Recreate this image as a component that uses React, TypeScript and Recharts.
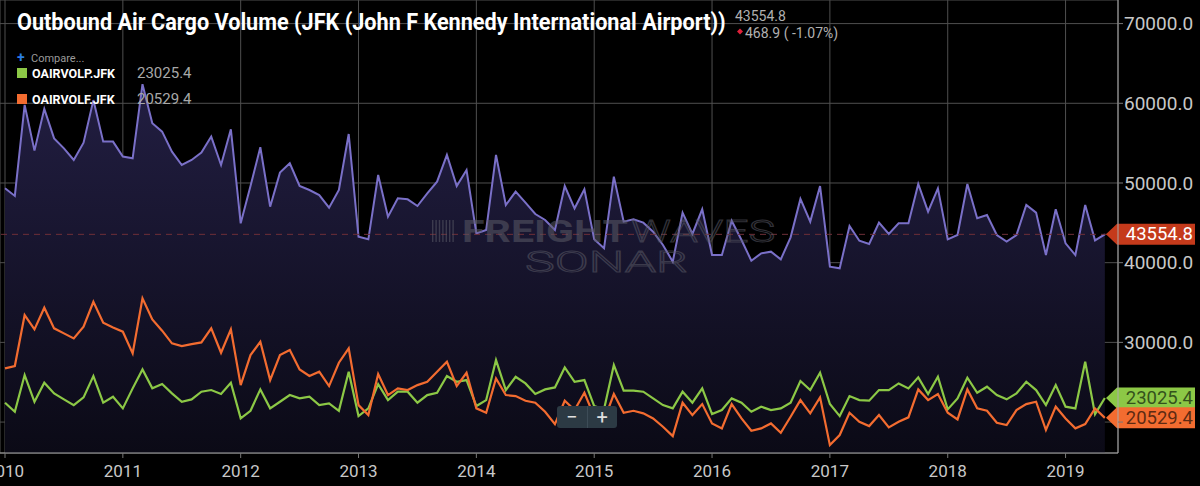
import React, { useLayoutEffect, useRef, useState } from 'react';
import { ComposedChart, Area, Line, XAxis, YAxis, CartesianGrid, ReferenceLine } from 'recharts';

// monthly values, Jan 2010 .. May 2019
const totalVolume = [
  49330, 48370, 59800, 54060, 59300, 55600, 54350, 52890, 55060, 60400, 55190, 55190,
  53310, 53100, 62400, 57490, 56440, 53930, 52260, 52890, 53810, 55820, 52260, 56740,
  44940, 49620, 54480, 47030, 51300, 52470, 49620, 49120, 48490, 46900, 49120, 56150,
  43260, 42930, 51000, 45770, 48070, 47950, 47110, 48700, 50170, 53520, 49620, 51630,
  43680, 44100, 53520, 47240, 48910, 47530, 46110, 45360, 44100, 49620, 46820, 49210,
  42930, 41800, 50790, 45150, 45440, 45020, 43890, 42220, 40130, 46280, 43600, 46700,
  40960, 40960, 45270, 42850, 40250, 41170, 41380, 40420, 43180, 48000, 45150, 49620,
  39500, 39290, 44600, 42760, 42340, 45020, 43600, 44940, 44940, 49870, 46400, 49330,
  42930, 43470, 49870, 45570, 45980, 43470, 42640, 43470, 47240, 46280, 40960, 46700,
  42430, 40960, 47240, 42800, 43554.8,
];

const passengerVolume = [
  22430, 21300, 25900, 22550, 24940, 23600, 22850, 22130, 23100, 25780, 22430, 23180,
  21720, 24230, 26610, 24230, 24770, 23600, 22550, 22850, 23810, 24020, 23520, 24940,
  20460, 21420, 24100, 21720, 22550, 23390, 22970, 23180, 22130, 22340, 21420, 26320,
  20750, 21720, 24770, 22760, 23810, 23810, 22430, 23390, 23680, 25780, 25060, 25270,
  22010, 22760, 27780, 24020, 25690, 24850, 23520, 24100, 24350, 26860, 25060, 25270,
  22000, 21600, 27160, 23940, 23940, 23810, 22970, 22130, 21720, 23810, 22430, 24230,
  21000, 21510, 22970, 22430, 21300, 21930, 21510, 21720, 22430, 25150, 24020, 26190,
  22260, 20750, 23260, 22760, 22680, 24020, 24020, 24850, 24230, 25610, 23520, 25690,
  21590, 22970, 25570, 23680, 24440, 23390, 22850, 23600, 25060, 24020, 22130, 24640,
  21930, 21720, 27570, 21000, 23025.4,
];

const freighterVolume = [
  26740, 27030, 33430, 31630, 34350, 31760, 31130, 30500, 31970, 35100, 32470, 31880,
  31340, 28620, 35520, 32890, 31470, 29880, 29540, 29790, 30000, 31760, 28700, 31630,
  24640, 28410, 30080, 25270, 28410, 29040, 26610, 25780, 26320, 24520, 27450, 29250,
  22130, 20880, 26030, 23390, 24230, 24020, 24640, 25060, 26320, 27570, 24520, 26190,
  21720, 21170, 25480, 23390, 23260, 22680, 22430, 21300, 19750, 22680, 21510, 23680,
  20700, 20200, 23520, 21170, 21420, 21090, 20460, 19420, 18240, 22430, 20880, 22260,
  19830, 19210, 22260, 20460, 18910, 19210, 19830, 18660, 20670, 22760, 21090, 23100,
  17110, 18370, 21170, 20040, 19500, 20880, 19330, 20040, 20590, 24100, 22760, 23520,
  21170, 20330, 24100, 21720, 21420, 19920, 19620, 21510, 22260, 22550, 19000, 21930,
  20460, 19210, 19750, 21720, 20529.4,
];

const yearLabels = ['2010', '2011', '2012', '2013', '2014', '2015', '2016', '2017', '2018', '2019'];
const yearTicks = [0, 12, 24, 36, 48, 60, 72, 84, 96, 108];
const valueTicks = [20000, 30000, 40000, 50000, 60000, 70000];

const seriesNames = ['OAIRVOLP.JFK', 'OAIRVOLF.JFK'];
const lastValues = [23025.4, 20529.4];
const lastTotal = 43554.8;
const lastChange = [468.9, -1.07];

const PURPLE = '#7a70c8';
const GREEN = '#8cc846';
const ORANGE = '#f36c30';

const data = totalVolume.map((v, i) => ({
  i,
  total: v,
  passenger: passengerVolume[i],
  freighter: freighterVolume[i],
}));

const Tag = (props: any) => {
  const { viewBox, text, bg, color } = props;
  const x = viewBox.x + viewBox.width;
  const y = viewBox.y;
  const pts = `${x - 12},${y} ${x - 1},${y - 10.5} ${x + 77},${y - 10.5} ${x + 77},${y + 10.5} ${x - 1},${y + 10.5}`;
  return (
    <g>
      <polygon points={pts} fill={bg} />
      <text x={x + 75} y={y} textAnchor="end" dominantBaseline="central" fill={color} fontSize={18.5} fontFamily="Roboto">
        {text}
      </text>
    </g>
  );
};

// the 20000 label sits under the orange tag in the original
const ValueTick = (props: any) => {
  const { x, y, payload } = props;
  if (payload.value === 20000) return null;
  return (
    <text x={x} y={y} dy="0.355em" textAnchor="start" fill="#c8c8c8" fontSize={19} fontFamily="Roboto">
      {payload.value.toFixed(1)}
    </text>
  );
};

function FitText({ x, y, width, children, ...rest }: any) {
  const ref = useRef<SVGTextElement>(null);
  const [k, setK] = useState(1);
  useLayoutEffect(() => {
    if (ref.current) {
      const w = ref.current.getComputedTextLength();
      if (w > 0) setK(width / w);
    }
  }, [width]);
  return (
    <text ref={ref} x={0} y={0} transform={`translate(${x},${y}) scale(${k},1)`} {...rest}>
      {children}
    </text>
  );
}

export default function App() {
  return (
    <div style={{ position: 'absolute', left: 0, top: 0, width: 1200, height: 486, background: '#000', overflow: 'hidden', fontFamily: 'Roboto' }}>
      <ComposedChart width={1200} height={486} data={data} margin={{ top: 0, right: 0, left: 0, bottom: 0 }}>
        <defs>
          <linearGradient id="purpleFill" x1="0" y1="0" x2="0" y2="1">
            <stop offset="0%" stopColor="#221e42" stopOpacity={1} />
            <stop offset="100%" stopColor="#0b0a16" stopOpacity={1} />
          </linearGradient>
        </defs>
        <CartesianGrid stroke="#4f4f4f" strokeWidth={1} />
        <XAxis
          type="number"
          dataKey="i"
          domain={[-0.51, 113.34]}
          allowDataOverflow
          ticks={yearTicks}
          interval={0}
          tickFormatter={(v: number) => yearLabels[yearTicks.indexOf(v)]}
          height={33}
          axisLine={{ stroke: '#aaaaaa' }}
          tickLine={{ stroke: '#777777' }}
          tickSize={5}
          tickMargin={7}
          tick={{ fill: '#c8c8c8', fontSize: 17 }}
        />
        <YAxis
          orientation="right"
          width={82}
          domain={[16120, 72960]}
          allowDataOverflow
          ticks={valueTicks}
          interval={0}
          axisLine={{ stroke: '#aaaaaa' }}
          tickLine={{ stroke: '#777777' }}
          tickSize={5}
          tickMargin={1}
          tick={<ValueTick />}
        />
        <Area
          type="linear"
          dataKey="total"
          stroke={PURPLE}
          strokeWidth={2}
          fill="url(#purpleFill)"
          fillOpacity={1}
          dot={false}
          activeDot={false}
          isAnimationActive={false}
        />
        <ReferenceLine
          y={lastTotal}
          stroke="#6e2f38"
          strokeDasharray="6 5"
          label={<Tag text={lastTotal.toFixed(1)} bg="#c53a1b" color="#ffffff" />}
        />
        <Line type="linear" dataKey="passenger" stroke={GREEN} strokeWidth={2.2} dot={false} activeDot={false} isAnimationActive={false} />
        <Line type="linear" dataKey="freighter" stroke={ORANGE} strokeWidth={2.2} dot={false} activeDot={false} isAnimationActive={false} />
        <ReferenceLine
          y={lastValues[0]}
          stroke="none"
          label={<Tag text={lastValues[0].toFixed(1)} bg={GREEN} color="#34521c" />}
        />
        <ReferenceLine
          y={lastValues[1]}
          stroke="none"
          label={<Tag text={lastValues[1].toFixed(1)} bg={ORANGE} color="#5e2a12" />}
        />
      </ComposedChart>

      <svg width={1200} height={486} style={{ position: 'absolute', left: 0, top: 0, pointerEvents: 'none' }}>
        {/* watermark */}
        <g opacity={0.55}>
          {[0, 1, 2, 3, 4, 5, 6].map((k) => (
            <rect key={k} x={432 + k * 3.4} y={220} width={1.4} height={22} fill="#5a5a66" />
          ))}
          <text x={462} y={242} fontSize={31} fontWeight={700} fill="#5a5a66" textLength={166} lengthAdjust="spacingAndGlyphs">FREIGHT</text>
          <text x={631} y={242} fontSize={31} fontWeight={300} fill="none" stroke="#5a5a66" strokeWidth={1} textLength={144} lengthAdjust="spacingAndGlyphs">WAVES</text>
          <text x={525} y={272} fontSize={29} fontWeight={300} fill="none" stroke="#5a5a66" strokeWidth={1} textLength={163} lengthAdjust="spacingAndGlyphs">SONAR</text>
        </g>

        {/* title */}
        <FitText x={17} y={29.5} width={709} fontSize={24} fontWeight={700} fill="#ffffff">
          Outbound Air Cargo Volume (JFK (John F Kennedy International Airport))
        </FitText>
        <text x={735} y={20.5} fontSize={14} fill="#b0b0b0">{lastTotal.toFixed(1)}</text>
        <polygon points="740,28.5 743,31.5 740,34.5 737,31.5" fill="#e0203a" />
        <text x={745} y={37.5} fontSize={14} fill="#b0b0b0">
          {`${lastChange[0].toFixed(1)} ( ${lastChange[1].toFixed(2)}%)`}
        </text>

        {/* legend */}
        <text x={17} y={62} fontSize={14} fontWeight={700} fill="#2b7de4">+</text>
        <text x={31} y={62} fontSize={11} fill="#9a9a9a">Compare...</text>
        <rect x={17} y={68} width={10} height={10} fill={GREEN} />
        <text x={32} y={77.5} fontSize={12.5} fontWeight={700} fill="#ffffff">{seriesNames[0]}</text>
        <text x={137} y={78} fontSize={15} fill="#a8a8a8">{lastValues[0].toFixed(1)}</text>
        <rect x={17} y={94} width={10} height={10} fill={ORANGE} />
        <text x={32} y={103.5} fontSize={12.5} fontWeight={700} fill="#ffffff">{seriesNames[1]}</text>
        <text x={137} y={104} fontSize={15} fill="#a8a8a8">{lastValues[1].toFixed(1)}</text>
      </svg>

      {/* zoom control */}
      <div style={{ position: 'absolute', left: 557, top: 406, width: 60, height: 22, background: '#2c3a44', borderRadius: 3, display: 'flex', color: '#e0e0e0', fontSize: 20, lineHeight: '22px' }}>
        <div style={{ flex: 1, textAlign: 'center', borderRight: '1px solid #3d4c57' }}>−</div>
        <div style={{ flex: 1, textAlign: 'center' }}>+</div>
      </div>
    </div>
  );
}
